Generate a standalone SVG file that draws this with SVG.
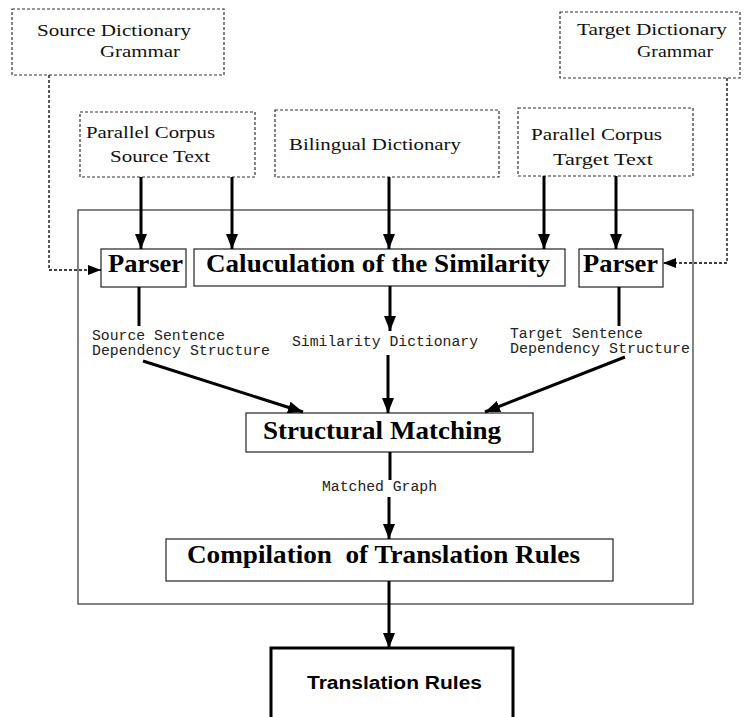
<svg xmlns="http://www.w3.org/2000/svg" width="747" height="717" viewBox="0 0 747 717">
  <style>
    .in { fill: #fff; stroke: #333; stroke-width: 1.2; stroke-dasharray: 3 2; }
    .box { fill: #fff; stroke: #333; stroke-width: 1.3; }
    .frame { fill: none; stroke: #333; stroke-width: 1.2; }
    .rm { font-family: "Liberation Serif", "Times New Roman", serif; font-size: 17.5px; fill: #111; }
    .bd { font-family: "Liberation Serif", "Times New Roman", serif; font-size: 26px; font-weight: bold; fill: #000; }
    .mono { font-family: "Liberation Mono", "Courier New", monospace; font-size: 14.5px; fill: #222; }
    .sans { font-family: "Liberation Sans", Arial, sans-serif; font-size: 18px; font-weight: bold; fill: #000; }
    .thick { fill: none; stroke: #000; stroke-width: 3; }
    .dot { fill: none; stroke: #000; stroke-width: 1.3; stroke-dasharray: 3 2; }
  </style>
  <defs>
    <marker id="ah" markerUnits="userSpaceOnUse" markerWidth="16" markerHeight="12" refX="15" refY="6" orient="auto">
      <path d="M0,0 L15,6 L0,12 Z" fill="#000"/>
    </marker>
    <marker id="ahs" markerUnits="userSpaceOnUse" markerWidth="14" markerHeight="10" refX="13" refY="5" orient="auto">
      <path d="M0,0 L13,5 L0,10 Z" fill="#000"/>
    </marker>
  </defs>
  <rect width="747" height="717" fill="#fff"/>

  <!-- processing frame -->
  <rect class="frame" x="78" y="210" width="615" height="394"/>

  <g id="source-dict">
    <rect class="in" x="12" y="9" width="212" height="66"/>
    <text class="rm" x="37" y="36" textLength="154" lengthAdjust="spacingAndGlyphs">Source Dictionary</text>
    <text class="rm" x="100" y="57" textLength="80" lengthAdjust="spacingAndGlyphs">Grammar</text>
  </g>

  <g id="target-dict">
    <rect class="in" x="560" y="12" width="180" height="66"/>
    <text class="rm" x="577" y="35" textLength="150" lengthAdjust="spacingAndGlyphs">Target Dictionary</text>
    <text class="rm" x="637" y="57" textLength="76" lengthAdjust="spacingAndGlyphs">Grammar</text>
  </g>

  <g id="corpus-source">
    <rect class="in" x="80" y="112" width="175" height="65"/>
    <text class="rm" x="86" y="138" textLength="129" lengthAdjust="spacingAndGlyphs">Parallel Corpus</text>
    <text class="rm" x="110" y="162" textLength="100" lengthAdjust="spacingAndGlyphs">Source Text</text>
  </g>

  <g id="bilingual-dict">
    <rect class="in" x="275" y="110" width="224" height="67"/>
    <text class="rm" x="289" y="150" textLength="172" lengthAdjust="spacingAndGlyphs">Bilingual Dictionary</text>
  </g>

  <g id="corpus-target">
    <rect class="in" x="518" y="108" width="175" height="68"/>
    <text class="rm" x="531" y="140" textLength="131" lengthAdjust="spacingAndGlyphs">Parallel Corpus</text>
    <text class="rm" x="553" y="165" textLength="100" lengthAdjust="spacingAndGlyphs">Target Text</text>
  </g>

  <g id="parser-source">
    <rect class="box" x="101" y="249" width="85" height="38"/>
    <text class="bd" x="108" y="272" textLength="75" lengthAdjust="spacingAndGlyphs">Parser</text>
  </g>

  <g id="similarity">
    <rect class="box" x="194" y="249" width="371" height="37"/>
    <text class="bd" x="206" y="272" textLength="344" lengthAdjust="spacingAndGlyphs">Caluculation of the Similarity</text>
  </g>

  <g id="parser-target">
    <rect class="box" x="579" y="249" width="84" height="38"/>
    <text class="bd" x="583" y="272" textLength="75" lengthAdjust="spacingAndGlyphs">Parser</text>
  </g>

  <g id="structural-matching">
    <rect class="box" x="246" y="413" width="287" height="39"/>
    <text class="bd" x="263" y="439" textLength="238" lengthAdjust="spacingAndGlyphs">Structural Matching</text>
  </g>

  <g id="compilation">
    <rect class="box" x="166" y="539" width="447" height="42"/>
    <text class="bd" x="187" y="563" textLength="393" lengthAdjust="spacingAndGlyphs" xml:space="preserve" style="white-space: pre">Compilation  of Translation Rules</text>
  </g>

  <g id="translation-rules">
    <path d="M271,720 V648 H513 V720" fill="#fff" stroke="#000" stroke-width="3"/>
    <text class="sans" x="307" y="689" textLength="175" lengthAdjust="spacingAndGlyphs">Translation Rules</text>
  </g>

  <g id="connectors">
    <!-- inputs into the first stage -->
    <line class="thick" x1="141" y1="177" x2="141" y2="249" marker-end="url(#ah)"/>
    <line class="thick" x1="232" y1="177" x2="232" y2="249" marker-end="url(#ah)"/>
    <line class="thick" x1="389" y1="177" x2="389" y2="249" marker-end="url(#ah)"/>
    <line class="thick" x1="544" y1="176" x2="544" y2="249" marker-end="url(#ah)"/>
    <line class="thick" x1="616" y1="176" x2="616" y2="249" marker-end="url(#ah)"/>

    <!-- grammar resources -->
    <polyline class="dot" points="49,75 49,270 101,270" marker-end="url(#ahs)"/>
    <polyline class="dot" points="727,78 727,263 663,263" marker-end="url(#ahs)"/>

    <!-- parser outputs -->
    <line class="thick" x1="139" y1="287" x2="139" y2="326"/>
    <line class="thick" x1="619" y1="287" x2="619" y2="326"/>
    <line class="thick" x1="390" y1="286" x2="390" y2="331" marker-end="url(#ah)"/>

    <!-- into structural matching -->
    <line class="thick" x1="143" y1="361" x2="303" y2="412" marker-end="url(#ah)"/>
    <line class="thick" x1="388" y1="355" x2="388" y2="413" marker-end="url(#ah)"/>
    <line class="thick" x1="625" y1="357" x2="485" y2="412" marker-end="url(#ah)"/>

    <!-- matched graph to compilation -->
    <line class="thick" x1="390" y1="452" x2="390" y2="480"/>
    <line class="thick" x1="389" y1="497" x2="389" y2="539" marker-end="url(#ah)"/>

    <!-- compilation to result -->
    <line class="thick" x1="389" y1="581" x2="389" y2="648" marker-end="url(#ah)"/>
  </g>

  <g id="labels">
    <text class="mono" x="92" y="340" textLength="133" lengthAdjust="spacingAndGlyphs">Source Sentence</text>
    <text class="mono" x="92" y="355" textLength="178" lengthAdjust="spacingAndGlyphs">Dependency Structure</text>
    <text class="mono" x="292" y="346" textLength="186" lengthAdjust="spacingAndGlyphs">Similarity Dictionary</text>
    <text class="mono" x="510" y="338" textLength="133" lengthAdjust="spacingAndGlyphs">Target Sentence</text>
    <text class="mono" x="510" y="353" textLength="180" lengthAdjust="spacingAndGlyphs">Dependency Structure</text>
    <text class="mono" x="322" y="491" textLength="115" lengthAdjust="spacingAndGlyphs">Matched Graph</text>
  </g>
</svg>
